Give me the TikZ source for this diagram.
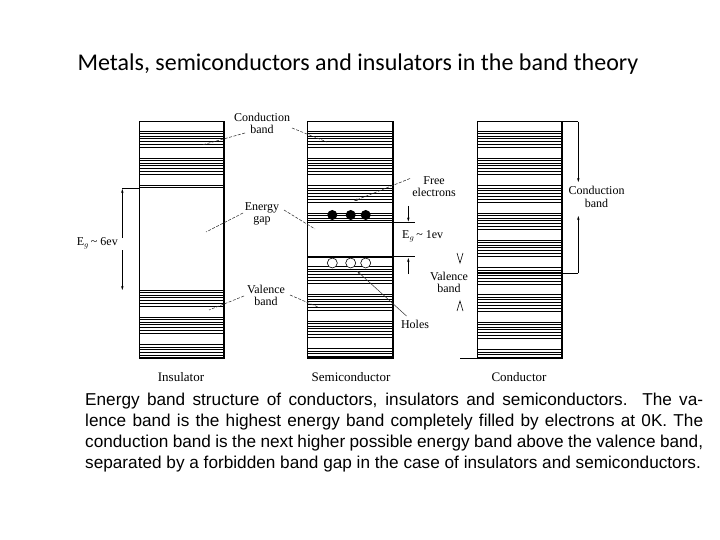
\documentclass[tikz,border=0pt]{standalone}
\usepackage{fontspec}
\setmainfont{Liberation Serif}
\newfontfamily\titlefont{Carlito}
\newfontfamily\capfont{Liberation Sans}
\usetikzlibrary{arrows.meta}
\tikzset{
  band/.style={line width=0.7pt},
  boxline/.style={line width=1.6pt},
  gapline/.style={line width=1.6pt},
  leader/.style={line width=0.55pt, black!80, dash pattern=on 3pt off 1.5pt},
  dim/.style={line width=0.7pt},
  dimarrow/.style={line width=0.7pt, -{Stealth[length=4pt,width=2.5pt]}},
  lbl/.style={font=\fontsize{12}{12.5}\selectfont, align=center, inner sep=0pt},
  colname/.style={font=\fontsize{13}{14}\selectfont, inner sep=0pt},
  chev/.style={line width=0.6pt},
}
\newcommand\bandlines[4]{%
  \foreach \k in {0,...,9}{%
    \foreach \o in {0,2.5,5,7.5,10.5,13.5,16.5}{%
      \pgfmathsetmacro\yy{#3+27.3*\k+\o}%
      \pgfmathtruncatemacro\ok{(\yy<#4)}%
      \ifnum\ok=1 \draw[band] (#1,\yy)--(#2,\yy);\fi
    }}}
\begin{document}
\begin{tikzpicture}[x=1pt,y=-1pt]
\useasboundingbox (0,0) rectangle (720,540);
\fill[white] (0,0) rectangle (720,540);
% title
\node[font=\titlefont\fontsize{24}{28}\selectfont, inner sep=0pt] (title) at (358,64) {Metals, semiconductors and insulators in the band theory};

% ---------- Insulator ----------
\draw[boxline] (139.3,121.7) rectangle (224,358.3);
\bandlines{139.3}{224}{131}{186}
\draw[gapline] (139.3,187.5)--(224,187.5);
\bandlines{139.3}{224}{290}{357}
\draw[gapline] (139.3,357.5)--(224,357.5);
% Eg ~ 6ev
\coordinate (i6top) at (122.3,188);
\draw[dim] (139.3,188)--(i6top);
\draw[dimarrow] (122.3,238)--(122.3,189);
\draw[dimarrow] (122.3,250)--(122.3,290);
\node[lbl, anchor=east] (eg6) at (118,243) {E$_{g}$\,\textasciitilde\ 6ev};
\node[colname] (insname) at (181,377) {Insulator};

% ---------- Semiconductor ----------
\draw[boxline] (307.3,121.7) rectangle (392.7,358.3);
\bandlines{307.3}{392.7}{131}{221}
\draw[gapline] (307.3,222.7)--(392.7,222.7);
\draw[gapline] (307.3,256.7)--(392.7,256.7);
\bandlines{307.3}{392.7}{266.7}{357}
\draw[gapline] (307.3,357.5)--(392.7,357.5);
\foreach \x [count=\i] in {332.3,350.7,365.7}{
  \fill (\x,215) circle (5) coordinate (e\i);
  \draw[line width=0.6pt, fill=white] (\x,263) circle (5);
  \coordinate (h\i) at (\x,263);
}
% Eg ~ 1ev
\draw[dim] (392.7,222.7)--(415,222.7);
\draw[dim] (392.7,256.7)--(415,256.7);
\draw[dimarrow] (408.3,206)--(408.3,221.5);
\draw[dimarrow] (408.3,274)--(408.3,258);
\node[lbl, anchor=west] (eg1) at (402,236) {E$_{g}$\,\textasciitilde\ 1ev};
\node[lbl] (free) at (434,186.5) {Free\\electrons};
\coordinate (freeend) at (354,201);
\draw[leader, -{Stealth[length=4pt,width=2.5pt]}] (410,178.5)--(freeend);
\node[lbl] (holes) at (415,324) {Holes};
\coordinate (holeend) at (357,271);
\draw[line width=0.5pt, black!80, -{Stealth[length=3.5pt,width=2.2pt]}] (406.5,316)--(holeend);
\node[colname] (scname) at (351,377) {Semiconductor};

% ---------- Conductor ----------
\draw[boxline] (477.3,121.7) rectangle (561.7,358.3);
\bandlines{477.3}{561.7}{131}{357}
\draw[gapline] (477.3,273.3)--(561.7,273.3);
\draw[gapline] (477.3,357.5)--(561.7,357.5);
\draw[dim] (561.7,121.7)--(578.3,121.7);
\draw[dimarrow] (578.3,121.7)--(578.3,182);
\draw[dimarrow] (578.3,273.3)--(578.3,216);
\draw[dim] (561.7,273.3)--(578.3,273.3);
\node[lbl] (cbc) at (596.5,197) {Conduction\\band};
\node[colname] (cdname) at (519,377) {Conductor};
% valence band of conductor
\node[lbl] (vbc) at (449,282.5) {Valence\\band};
\draw[chev] (457,253)--(460,263)--(463,253);
\draw[chev] (457,311)--(460,301)--(463,311);
\draw[dim] (460,358)--(477.3,358);

% ---------- shared labels ----------
\node[lbl] (cb) at (262,123.5) {Conduction\\band};
\node[lbl] (gap) at (262,214) {Energy\\gap};
\node[lbl] (vb) at (266,295.5) {Valence\\band};
\coordinate (cbL) at (202,145);
\coordinate (cbR) at (327,142);
\coordinate (gapL) at (206,232);
\coordinate (gapR) at (315,229);
\coordinate (vbL) at (209,310);
\coordinate (vbR) at (318,307);
\draw[leader] (245,133)--(cbL);
\draw[leader] (292,128)--(cbR);
\draw[leader] (243,213)--(gapL);
\draw[leader] (284,210)--(gapR);
\draw[leader] (244,296)--(vbL);
\draw[leader] (290,295)--(vbR);

% ---------- caption ----------
\node[anchor=north west, inner sep=0pt, text width=618pt, align=justify,
      font=\capfont\fontsize{17.2}{21}\selectfont] (cap) at (85,393)
{Energy band structure of conductors, insulators and semiconductors.\ \ The va-\linebreak
lence band is the highest energy band completely filled by electrons at 0K. The\linebreak
conduction band is the next higher possible energy band above the valence band,\linebreak
separated by a forbidden band gap in the case of insulators and semiconductors.};
\end{tikzpicture}
\end{document}
